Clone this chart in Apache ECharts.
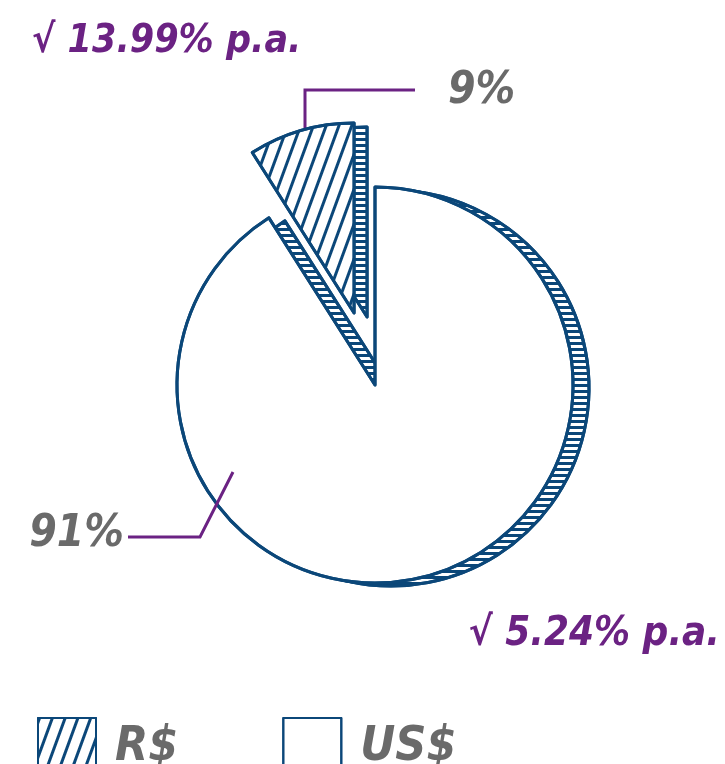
<!DOCTYPE html>
<html>
<head>
<meta charset="utf-8">
<script src="https://cdn.jsdelivr.net/npm/echarts@6/dist/echarts.min.js"></script>
<style>
  html, body { margin: 0; padding: 0; background: #ffffff; }
  #chart { width: 725px; height: 764px; }
</style>
</head>
<body>
<div id="chart"></div>
<script>
// Portfolio split by currency and yearly return of each part
const categories = ['R$', 'US$'];
const shares = [9, 91];
const returnsPa = ['13.99', '5.24'];

const BLUE = '#0b4779';
const PURPLE = '#6b2283';
const GREY = '#6a6a6a';
const FONT = "'Liberation Sans Narrow', 'DejaVu Sans Condensed', 'Liberation Sans', sans-serif";

// geometry of the sketched 3D pie
const center = [375, 385];
const radius = 198;
const wedgeRadius = 190;
const explode = 75;
const depth = [16, 3];      // shift of the side wall behind the top face
const wedgeDepth = [13, 4];

// the R$ wedge is pulled out along its middle angle
const total = shares.reduce((a, b) => a + b, 0);
const midAngle = (90 + (shares[0] / total) * 180) * Math.PI / 180;
const wedgeCenter = [
  center[0] + explode * Math.cos(midAngle),
  center[1] - explode * Math.sin(midAngle)
];

// diagonal hatching for the R$ wedge, short bars for the pie's side wall
const wedgeHatch = {
  symbol: 'rect', symbolSize: 1, color: BLUE,
  dashArrayX: [1, 0], dashArrayY: [3, 9], rotation: -1.22
};
const rimHatch = {
  symbol: 'rect', symbolSize: 1, color: BLUE,
  dashArrayX: [1, 0], dashArrayY: [3, 3], rotation: 0
};

// where each value label and its leader line go
const labelSpots = [
  { x: 448, y: 92, align: 'left', line: [[305, 129], [305, 90], [415, 90]] },
  { x: 124, y: 535, align: 'right', line: [[233, 472], [200, 537], [128, 537]] }
];

const valueLabel = {
  show: true,
  formatter: '{d}%',
  color: GREY, fontFamily: FONT, fontStyle: 'italic', fontWeight: 'bold', fontSize: 44
};
const leader = { show: true, smooth: false, lineStyle: { color: PURPLE, width: 3 } };

const invisible = { color: 'transparent', borderWidth: 0, decal: { symbol: 'none' } };

// one visible slice per series; the other slice keeps its angle but draws nothing
function sliceData(visibleIndex, style, withLabels) {
  return shares.map((v, i) => {
    const item = i === visibleIndex
      ? { name: categories[i], value: v, itemStyle: style }
      : { name: '', value: v, itemStyle: invisible };
    if (!withLabels) {
      item.label = { show: false };
      item.labelLine = { show: false };
    }
    return item;
  });
}

const basePie = {
  type: 'pie',
  startAngle: 90,
  clockwise: false,
  selectedMode: false,
  emphasis: { disabled: true },
  itemStyle: { borderColor: BLUE, borderWidth: 3, borderJoin: 'round' },
  label: { show: false },
  labelLine: { show: false }
};

const chart = echarts.init(document.getElementById('chart'), null, { renderer: 'canvas' });

chart.setOption({
  animation: false,
  backgroundColor: '#ffffff',
  title: [
    {
      text: '√ ' + returnsPa[0] + '% p.a.',
      left: 32, top: 22, padding: 0,
      textStyle: { color: PURPLE, fontFamily: FONT, fontStyle: 'italic', fontWeight: 'bold', fontSize: 39 }
    },
    {
      text: '√ ' + returnsPa[1] + '% p.a.',
      right: 5, top: 615, padding: 0,
      textStyle: { color: PURPLE, fontFamily: FONT, fontStyle: 'italic', fontWeight: 'bold', fontSize: 40 }
    }
  ],
  legend: {
    data: categories,
    left: 32, top: 712,
    orient: 'horizontal',
    icon: 'rect',
    itemWidth: 58, itemHeight: 60,
    itemGap: 104,
    selectedMode: false,
    itemStyle: { borderColor: BLUE, borderWidth: 2 },
    textStyle: {
      color: GREY, fontFamily: FONT, fontStyle: 'italic', fontWeight: 'bold', fontSize: 48,
      padding: [0, 0, 0, 14]
    }
  },
  series: [
    Object.assign({}, basePie, {
      // pulled-out R$ wedge, top face; carries both value labels so they sit on top
      name: 'R$ wedge',
      z: 4,
      center: wedgeCenter,
      radius: wedgeRadius,
      label: valueLabel,
      labelLine: leader,
      labelLayout: function (params) {
        const s = labelSpots[params.dataIndex];
        return { x: s.x, y: s.y, align: s.align, verticalAlign: 'middle', labelLinePoints: s.line };
      },
      data: sliceData(0, { color: '#ffffff', decal: wedgeHatch }, true)
    }),
    Object.assign({}, basePie, {
      // US$ part, top face
      name: 'US$ face',
      z: 3,
      center: center,
      radius: radius,
      data: sliceData(1, { color: '#ffffff', decal: { symbol: 'none' } }, false)
    }),
    Object.assign({}, basePie, {
      // side wall of the R$ wedge
      name: 'R$ wall',
      z: 2,
      silent: true,
      center: [wedgeCenter[0] + wedgeDepth[0], wedgeCenter[1] + wedgeDepth[1]],
      radius: wedgeRadius,
      data: sliceData(0, { color: '#ffffff', decal: rimHatch }, false)
    }),
    Object.assign({}, basePie, {
      // side wall of the US$ part
      name: 'US$ wall',
      z: 1,
      silent: true,
      center: [center[0] + depth[0], center[1] + depth[1]],
      radius: radius,
      data: sliceData(1, { color: '#ffffff', decal: rimHatch }, false)
    })
  ]
});
</script>
</body>
</html>
